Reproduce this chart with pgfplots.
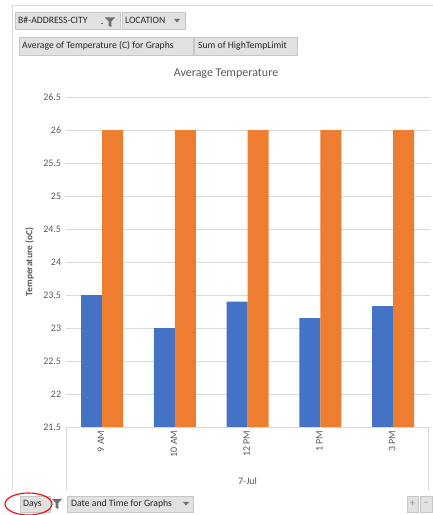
\documentclass[border=0pt]{standalone}
\usepackage{fontspec}
\setmainfont{Carlito}
\usepackage{pgfplots}
\usepackage{pgfplotstable}
\pgfplotsset{compat=1.18}

\definecolor{xlblue}{HTML}{4472C4}
\definecolor{xlorange}{HTML}{ED7D31}
\definecolor{xltext}{HTML}{595959}
\definecolor{xlgrid}{HTML}{D9D9D9}
\definecolor{btnfill}{HTML}{E1E1E1}
\definecolor{btnline}{HTML}{C6C6C6}
\definecolor{iconcol}{HTML}{6E6E6E}

% time slot, average temperature, high temp limit
\pgfplotstableread{
x avg high
0 23.50 26
1 23.00 26
2 23.40 26
3 23.15 26
4 23.33 26
}\temps

\begin{document}
\begin{tikzpicture}[x=1pt,y=1pt]
\useasboundingbox (0,0) rectangle (433,515);

\begin{axis}[
    at={(65.6pt,88pt)}, anchor=south west,
    width=364pt, height=330pt, scale only axis,
    xmin=-0.5, xmax=4.5,
    ymin=21.5, ymax=26.5,
    ybar=0pt, bar width=21pt,
    xtick=data,
    xticklabels={9 AM,10 AM,12 PM,1 PM,3 PM},
    ytick={21.5,22,22.5,23,23.5,24,24.5,25,25.5,26,26.5},
    yticklabels={21.5,22,22.5,23,23.5,24,24.5,25,25.5,26,26.5},
    major tick length=0pt,
    axis line style={draw=none},
    ymajorgrids, grid style={xlgrid, line width=0.8pt},
    tick label style={font=\fontsize{10}{12}\selectfont, text=xltext},
    x tick label style={rotate=90, anchor=east, yshift=1pt},
    y tick label style={xshift=-1pt},
    /pgf/number format/assume math mode=true,
    xlabel={7-Jul},
    xlabel style={at={(axis description cs:0.5,0)}, anchor=center, yshift=-54pt,
        font=\fontsize{10}{12}\selectfont, text=xltext},
    ylabel={Temperature (oC)},
    ylabel style={at={(axis description cs:-0.099,0.5)}, anchor=center,
        font=\bfseries\fontsize{9.5}{11}\selectfont, text=xltext},
]
\addplot[fill=xlblue, draw=none] table[x=x, y=avg]{\temps};
\addplot[fill=xlorange, draw=none] table[x=x, y=high]{\temps};
\end{axis}

% pivot chart decorations, in pixel coordinates from the top
\begin{scope}[shift={(0,515)}, y=-1pt]
  \draw[xlgrid, line width=0.8pt] (12,490) -- (12,5) -- (433,5);
  \draw[xlgrid, line width=0.8pt] (66,427) -- (66,490);
  \draw[xlgrid, line width=0.8pt] (428,427) -- (428,490);

  \node[text=xltext, font=\fontsize{12}{14}\selectfont] at (226,74) {Average Temperature};

  \tikzset{btn/.style={fill=btnfill, draw=btnline, line width=0.5pt},
           btntext/.style={anchor=west, inner sep=0pt, text=black!85,
             font=\fontsize{9.7}{12}\selectfont}}
  % top field buttons
  \draw[btn] (15,12) rectangle (120,29);
  \node[btntext] at (18,20.5) {B\#-ADDRESS-CITY};
  \fill[iconcol] (101,23) rectangle (102.5,24.5);
  \fill[iconcol] (105,17.5) -- (115,17.5) -- (111.3,21.5) -- (111.3,27) -- (108.7,25.8) -- (108.7,21.5) -- cycle;
  \draw[btn] (122,12) rectangle (185,29);
  \node[btntext] at (125,20.5) {LOCATION};
  \fill[iconcol] (174,19) -- (180,19) -- (177,22.5) -- cycle;

  \draw[btn] (19,37) rectangle (193,55);
  \node[btntext] at (22,46) {Average of Temperature (C) for Graphs};
  \draw[btn] (194,37) rectangle (297,55);
  \node[btntext] at (198,46) {Sum of HighTempLimit};

  % bottom field buttons
  \draw[btn] (20,496) rectangle (50,512);
  \node[btntext] at (23,504) {Days};
  \fill[iconcol] (52,499) -- (62,499) -- (58.3,503) -- (58.3,509) -- (55.7,507.8) -- (55.7,503) -- cycle;
  \draw[btn] (67,496) rectangle (193,512);
  \node[btntext] at (71,504) {Date and Time for Graphs};
  \fill[iconcol] (183,502) -- (189,502) -- (186,505.5) -- cycle;
  \draw[btn] (407,496) rectangle (418,512);
  \node[text=black!45, font=\fontsize{10}{11}\selectfont] at (412.5,504) {+};
  \draw[btn] (420,496) rectangle (432,512);
  \node[text=black!45, font=\fontsize{10}{11}\selectfont] at (426,504) {\textendash};

  \draw[red, line width=1.1pt] (28.5,504) ellipse [x radius=23.5, y radius=11];
\end{scope}
\end{tikzpicture}
\end{document}
